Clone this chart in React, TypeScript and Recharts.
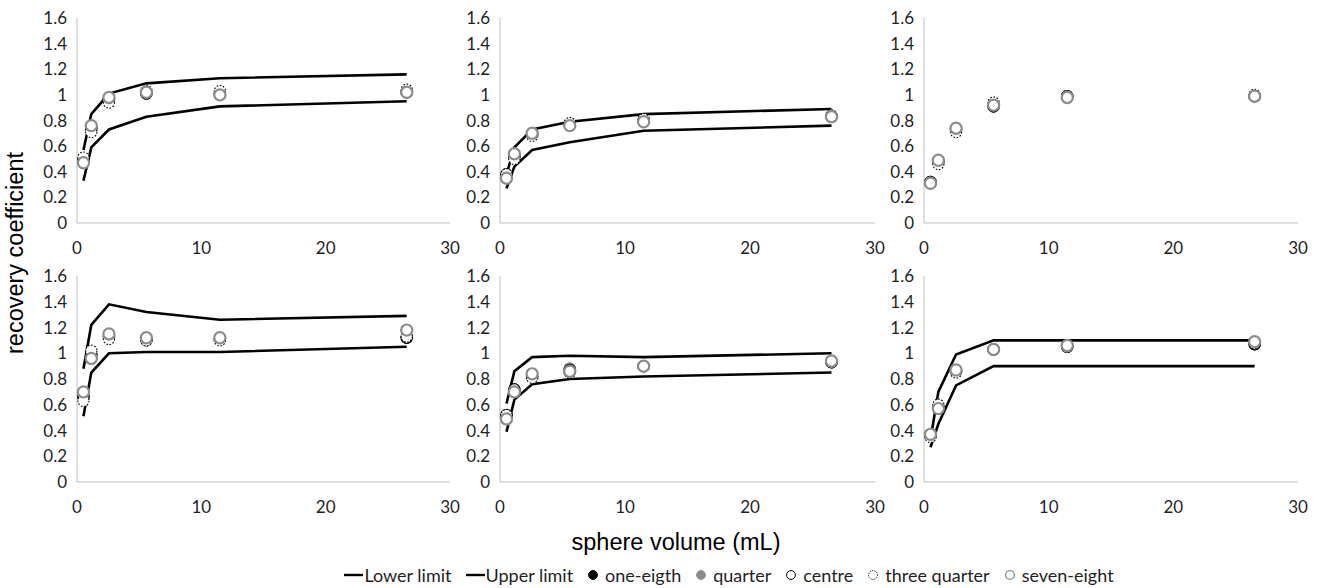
import React from 'react';
import { ComposedChart, Line, Scatter, XAxis, YAxis } from 'recharts';

const volumes = [0.52, 1.15, 2.57, 5.58, 11.49, 26.52];
const xTicks = [0, 10, 20, 30];
const yTicks = [0, 0.2, 0.4, 0.6, 0.8, 1, 1.2, 1.4, 1.6];
const seriesNames = ['one-eigth', 'quarter', 'centre', 'three quarter', 'seven-eight'];

// Panel 1 (top left)
const lower1 = [0.33, 0.59, 0.73, 0.83, 0.91, 0.95];
const upper1 = [0.57, 0.85, 1.01, 1.09, 1.13, 1.16];
const oneEighth1 = [0.49, 0.74, 0.97, 1.01, 1.01, 1.02];
const quarter1 = [0.48, 0.75, 0.97, 1.02, 1.01, 1.02];
const centre1 = [0.49, 0.74, 0.96, 1.01, 1.01, 1.02];
const threeQuarter1 = [0.51, 0.71, 0.94, 1.03, 1.03, 1.04];
const sevenEighth1 = [0.47, 0.76, 0.98, 1.02, 1.0, 1.02];

// Panel 2 (top middle)
const lower2 = [0.27, 0.44, 0.57, 0.63, 0.72, 0.76];
const upper2 = [0.38, 0.59, 0.73, 0.79, 0.85, 0.89];
const oneEighth2 = [0.37, 0.53, 0.69, 0.77, 0.8, 0.83];
const quarter2 = [0.37, 0.53, 0.69, 0.77, 0.8, 0.84];
const centre2 = [0.38, 0.52, 0.69, 0.77, 0.8, 0.83];
const threeQuarter2 = [0.38, 0.5, 0.68, 0.78, 0.81, 0.84];
const sevenEighth2 = [0.35, 0.54, 0.7, 0.76, 0.79, 0.83];

// Panel 3 (top right)
const oneEighth3 = [0.32, 0.48, 0.73, 0.91, 0.99, 0.99];
const quarter3 = [0.31, 0.48, 0.73, 0.91, 0.99, 0.99];
const centre3 = [0.32, 0.48, 0.73, 0.91, 0.99, 0.99];
const threeQuarter3 = [0.32, 0.46, 0.71, 0.94, 0.99, 1.0];
const sevenEighth3 = [0.31, 0.49, 0.74, 0.92, 0.98, 0.99];

// Panel 4 (bottom left)
const lower4 = [0.51, 0.85, 1.0, 1.01, 1.01, 1.05];
const upper4 = [0.88, 1.22, 1.38, 1.32, 1.26, 1.29];
const oneEighth4 = [0.66, 0.98, 1.13, 1.1, 1.11, 1.12];
const quarter4 = [0.66, 0.98, 1.13, 1.1, 1.11, 1.13];
const centre4 = [0.66, 0.99, 1.13, 1.11, 1.11, 1.12];
const threeQuarter4 = [0.63, 1.02, 1.11, 1.1, 1.1, 1.13];
const sevenEighth4 = [0.7, 0.96, 1.15, 1.12, 1.12, 1.18];

// Panel 5 (bottom middle)
const lower5 = [0.39, 0.64, 0.76, 0.8, 0.82, 0.85];
const upper5 = [0.61, 0.86, 0.97, 0.98, 0.97, 1.0];
const oneEighth5 = [0.51, 0.71, 0.82, 0.88, 0.9, 0.93];
const quarter5 = [0.51, 0.71, 0.82, 0.88, 0.9, 0.93];
const centre5 = [0.52, 0.72, 0.82, 0.87, 0.9, 0.93];
const threeQuarter5 = [0.52, 0.7, 0.81, 0.85, 0.9, 0.93];
const sevenEighth5 = [0.49, 0.7, 0.84, 0.86, 0.9, 0.94];

// Panel 6 (bottom right)
const lower6 = [0.27, 0.45, 0.75, 0.9, 0.9, 0.9];
const upper6 = [0.33, 0.7, 0.99, 1.1, 1.1, 1.1];
const oneEighth6 = [0.36, 0.58, 0.86, 1.03, 1.05, 1.07];
const quarter6 = [0.36, 0.58, 0.86, 1.03, 1.05, 1.07];
const centre6 = [0.36, 0.58, 0.86, 1.03, 1.05, 1.07];
const threeQuarter6 = [0.35, 0.6, 0.85, 1.03, 1.05, 1.08];
const sevenEighth6 = [0.37, 0.57, 0.87, 1.03, 1.06, 1.09];

type PanelDef = {
  lower: number[] | null;
  upper: number[] | null;
  points: number[][];
  plotLeft: number;
  plotRight: number;
  plotTop: number;
  plotBottom: number;
};

const colLeft = [77, 500, 924];
const colRight = [450, 875, 1298];
const rowTop = [18, 276];
const rowBottom = [223, 482];

const panels: PanelDef[] = [
  { lower: lower1, upper: upper1, points: [oneEighth1, quarter1, centre1, threeQuarter1, sevenEighth1], plotLeft: colLeft[0], plotRight: colRight[0], plotTop: rowTop[0], plotBottom: rowBottom[0] },
  { lower: lower2, upper: upper2, points: [oneEighth2, quarter2, centre2, threeQuarter2, sevenEighth2], plotLeft: colLeft[1], plotRight: colRight[1], plotTop: rowTop[0], plotBottom: rowBottom[0] },
  { lower: null, upper: null, points: [oneEighth3, quarter3, centre3, threeQuarter3, sevenEighth3], plotLeft: colLeft[2], plotRight: colRight[2], plotTop: rowTop[0], plotBottom: rowBottom[0] },
  { lower: lower4, upper: upper4, points: [oneEighth4, quarter4, centre4, threeQuarter4, sevenEighth4], plotLeft: colLeft[0], plotRight: colRight[0], plotTop: rowTop[1], plotBottom: rowBottom[1] },
  { lower: lower5, upper: upper5, points: [oneEighth5, quarter5, centre5, threeQuarter5, sevenEighth5], plotLeft: colLeft[1], plotRight: colRight[1], plotTop: rowTop[1], plotBottom: rowBottom[1] },
  { lower: lower6, upper: upper6, points: [oneEighth6, quarter6, centre6, threeQuarter6, sevenEighth6], plotLeft: colLeft[2], plotRight: colRight[2], plotTop: rowTop[1], plotBottom: rowBottom[1] },
];

const GRAY = '#8c8c8c';
const TEXT = '#1f1f1f';
const R = 5.6;

const markerStyles = [
  { fill: '#000', stroke: '#000', strokeWidth: 1, dash: undefined as string | undefined },
  { fill: GRAY, stroke: GRAY, strokeWidth: 1, dash: undefined as string | undefined },
  { fill: '#fff', stroke: '#000', strokeWidth: 1.3, dash: undefined as string | undefined },
  { fill: '#fff', stroke: '#000', strokeWidth: 1.1, dash: '1.6 1.6' },
  { fill: '#fff', stroke: GRAY, strokeWidth: 2.2, dash: undefined as string | undefined },
];

const makeShape = (i: number) => (props: any) => {
  const { cx, cy } = props;
  if (cx == null || cy == null) return <g />;
  const s = markerStyles[i];
  return (
    <circle cx={cx} cy={cy} r={R} fill={s.fill} stroke={s.stroke} strokeWidth={s.strokeWidth} strokeDasharray={s.dash} />
  );
};

const YW = 60;
const MT = 10;
const MR = 14;
const XH = 40;

const tickStyle = { fill: TEXT, fontSize: 17, fontFamily: 'Lato, "Open Sans", sans-serif' };

function Panel({ p }: { p: PanelDef }) {
  const pw = p.plotRight - p.plotLeft;
  const ph = p.plotBottom - p.plotTop;
  const width = YW + pw + MR;
  const height = MT + ph + XH;
  const lineData = p.lower && p.upper ? volumes.map((x, i) => ({ x, lower: p.lower![i], upper: p.upper![i] })) : [];
  return (
    <div style={{ position: 'absolute', left: p.plotLeft - YW, top: p.plotTop - MT, width, height }}>
      <ComposedChart width={width} height={height} data={lineData} margin={{ top: MT, right: MR, left: 0, bottom: 0 }} style={{ overflow: 'visible' }}>
        <XAxis
          type="number"
          dataKey="x"
          domain={[0, 30]}
          ticks={xTicks}
          height={XH}
          tickLine={false}
          tickSize={0}
          tickMargin={19}
          axisLine={{ stroke: '#bfbfbf', strokeWidth: 1 }}
          tick={tickStyle}
        />
        <YAxis
          type="number"
          domain={[0, 1.6]}
          ticks={yTicks}
          width={YW}
          tickLine={false}
          tickSize={0}
          tickMargin={10}
          axisLine={{ stroke: '#bfbfbf', strokeWidth: 1 }}
          tick={tickStyle}
          tickFormatter={(v: number) => String(Number(v.toFixed(1)))}
        />
        {p.lower && (
          <Line type="linear" dataKey="lower" stroke="#000" strokeWidth={2.6} dot={false} activeDot={false} isAnimationActive={false} />
        )}
        {p.upper && (
          <Line type="linear" dataKey="upper" stroke="#000" strokeWidth={2.6} dot={false} activeDot={false} isAnimationActive={false} />
        )}
        {p.points.map((vals, i) => (
          <Scatter
            key={seriesNames[i]}
            name={seriesNames[i]}
            data={volumes.map((x, j) => ({ x, y: vals[j] }))}
            dataKey="y"
            shape={makeShape(i)}
            isAnimationActive={false}
          />
        ))}
      </ComposedChart>
    </div>
  );
}

function LegendIcon({ kind }: { kind: number }) {
  if (kind < 0) {
    return (
      <svg width={19} height={10} style={{ marginRight: 1 }}>
        <line x1={0} y1={5} x2={19} y2={5} stroke="#000" strokeWidth={2.4} />
      </svg>
    );
  }
  const s = markerStyles[kind];
  return (
    <svg width={12} height={12} style={{ marginRight: 6 }}>
      <circle cx={6} cy={6} r={4.4} fill={s.fill} stroke={s.stroke} strokeWidth={kind === 4 ? 1.4 : 1} strokeDasharray={kind === 3 ? '1.2 1.2' : undefined} />
    </svg>
  );
}

const legendItems = [
  { label: 'Lower limit', kind: -1 },
  { label: 'Upper limit', kind: -1 },
  ...seriesNames.map((n, i) => ({ label: n, kind: i })),
];

export default function App() {
  return (
    <div style={{ position: 'absolute', left: 0, top: 0, width: 1320, height: 588, background: '#fff', overflow: 'hidden' }}>
      {panels.map((p, i) => (
        <Panel key={i} p={p} />
      ))}
      <div
        style={{
          position: 'absolute',
          left: 476,
          top: 529,
          width: 400,
          textAlign: 'center',
          fontFamily: '"Liberation Sans", Arial, sans-serif',
          fontSize: 23.5,
          lineHeight: '26px',
          color: '#000',
        }}
      >
        sphere volume (mL)
      </div>
      <div
        style={{
          position: 'absolute',
          left: 15 - 150,
          top: 253 - 13,
          width: 300,
          height: 26,
          textAlign: 'center',
          fontFamily: '"Liberation Sans", Arial, sans-serif',
          fontSize: 23.5,
          lineHeight: '26px',
          color: '#000',
          transform: 'rotate(-90deg)',
        }}
      >
        recovery coefficient
      </div>
      <div
        style={{
          position: 'absolute',
          left: 229,
          top: 563,
          width: 1000,
          height: 24,
          display: 'flex',
          justifyContent: 'center',
          alignItems: 'center',
          gap: 14,
          fontFamily: 'Lato, "Open Sans", sans-serif',
          fontSize: 18,
          color: TEXT,
          whiteSpace: 'nowrap',
        }}
      >
        {legendItems.map((it) => (
          <div key={it.label} style={{ display: 'flex', alignItems: 'center' }}>
            <LegendIcon kind={it.kind} />
            <span>{it.label}</span>
          </div>
        ))}
      </div>
    </div>
  );
}
